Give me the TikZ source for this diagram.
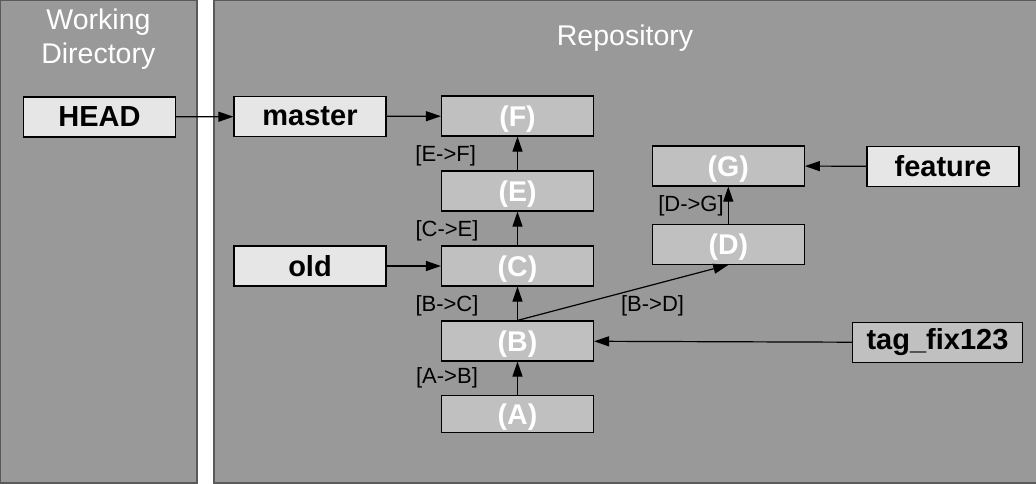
\documentclass[tikz,border=0pt]{standalone}
\usepackage{fontspec}
\setmainfont{Liberation Sans}
\usetikzlibrary{arrows.meta}
\definecolor{panelgray}{HTML}{999999}
\definecolor{lightbox}{HTML}{E6E6E6}
\definecolor{commitbox}{HTML}{C0C0C0}
\definecolor{paneledge}{HTML}{5A5A5A}
\begin{document}
\begin{tikzpicture}[x=1pt,y=-1pt,
  refbox/.style={draw=black, line width=1.2pt, fill=lightbox, minimum width=152pt,
    minimum height=40pt, inner sep=0pt, font=\fontsize{29}{34}\selectfont\bfseries},
  commit/.style={draw=black, line width=1.2pt, fill=commitbox, minimum width=152pt,
    minimum height=40pt, inner sep=0pt, text=white, text depth=0pt,
    font=\fontsize{28.5}{32}\selectfont\bfseries},
  edgelabel/.style={font=\fontsize{22}{26}\selectfont, inner sep=0pt},
  paneltitle/.style={text=white, font=\fontsize{28.5}{34}\selectfont, inner sep=0pt, anchor=base},
  panel/.style={fill=panelgray, draw=paneledge, line width=1.5pt},
  conn/.style={line width=1.2pt, -{Triangle[length=15pt,width=10pt]}}
]
\useasboundingbox (0,0) rectangle (1036,483);
\fill[white] (0,0) rectangle (1036,483);
\draw[panel] (0,0) rectangle (197,483);
\draw[panel] (214,0) rectangle (1037,483);

\node[paneltitle] (wd1) at (98.5,29.3) {Working};
\node[paneltitle] (wd2) at (98.3,63.3) {Directory};
\node[paneltitle] (repo) at (625,45.7) {Repository};

\node[refbox] (HEAD) at (99.5,117) {HEAD};
\node[refbox] (master) at (310,116.5) {master};
\node[refbox] (old) at (310,266) {old};
\node[refbox] (feature) at (943,166.3) {feature};
\node[refbox, fill=commitbox, minimum width=170pt] (tag) at (937.5,342.5) {tag\_fix123};

\node[commit] (F) at (517.5,116) {(F)};
\node[commit] (E) at (517.5,191) {(E)};
\node[commit] (C) at (517.5,266) {(C)};
\node[commit] (B) at (517.5,341) {(B)};
\node[commit, minimum height=37pt] (A) at (517.5,413.7) {(A)};
\node[commit] (G) at (728.3,166) {(G)};
\node[commit] (D) at (728.3,244.3) {(D)};

\node[edgelabel] (lEF) at (445.7,156) {[E->F]};
\node[edgelabel] (lCE) at (447,231) {[C->E]};
\node[edgelabel] (lBC) at (447,306) {[B->C]};
\node[edgelabel] (lAB) at (447,378) {[A->B]};
\node[edgelabel] (lBD) at (652.6,306) {[B->D]};
\node[edgelabel] (lDG) at (691,206) {[D->G]};

\draw[conn] (HEAD) -- (master);
\draw[conn] (master) -- (F);
\draw[conn] (old) -- (C);
\draw[conn] (feature) -- (G);
\draw[conn] (tag) -- (B);
\draw[conn] (A) -- (B);
\draw[conn] (B) -- (C);
\draw[conn] (C) -- (E);
\draw[conn] (E) -- (F);
\draw[conn] (D) -- (G);
\draw[conn] (B.north) -- (D.south);
\end{tikzpicture}
\end{document}
